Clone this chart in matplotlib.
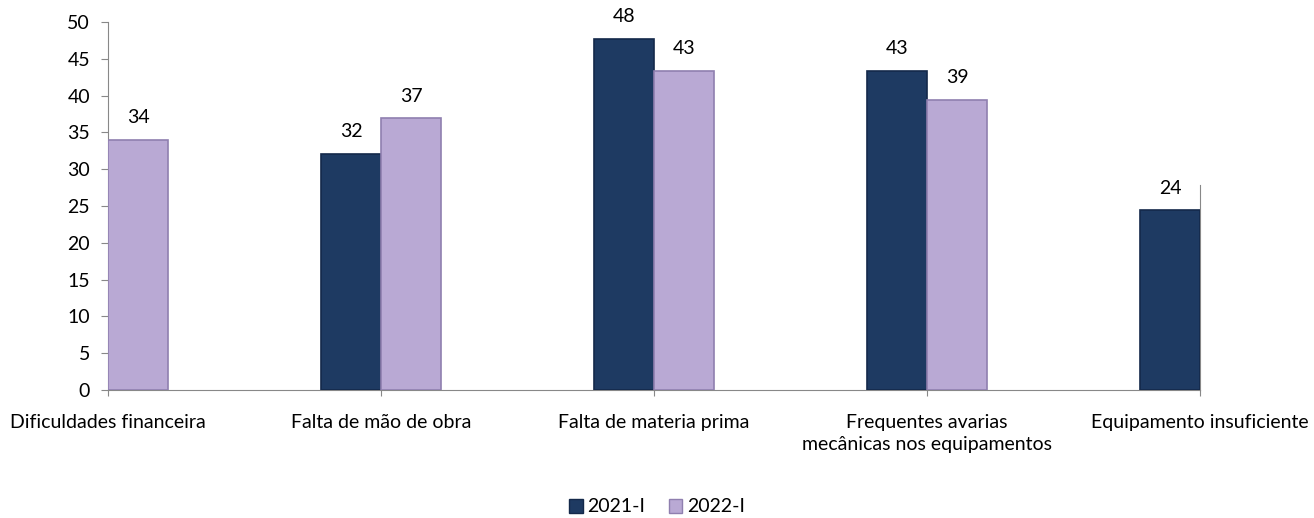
import numpy as np
import matplotlib
matplotlib.use("Agg")
import matplotlib.pyplot as plt
from matplotlib.patches import Patch

categories = ["Dificuldades financeira", "Falta de mão de obra", "Falta de materia prima",
              "Frequentes avarias\nmecânicas nos equipamentos", "Equipamento insuficiente"]
s2021 = [np.nan, 32.1, 47.7, 43.4, 24.4]
s2022 = [34.0, 36.9, 43.3, 39.4, np.nan]
series_names = ["2021-I", "2022-I"]
colors = ["#1E3A62", "#B9A9D4"]
edges = ["#14294A", "#8F7FAF"]
yticks = [0, 5, 10, 15, 20, 25, 30, 35, 40, 45, 50]

plt.rcParams['font.family'] = ['Lato', 'DejaVu Sans']
FS = 14

fig = plt.figure(figsize=(13.14, 5.18), dpi=100)
ax = fig.add_axes([108/1314, 1-390/518, (1200-108)/1314, (390-22)/518])

x = np.arange(len(categories))
w = 0.22
for vals, off, c, ec in [(s2021, -w/2, colors[0], edges[0]),
                         (s2022, w/2, colors[1], edges[1])]:
    v = np.array(vals, dtype=float)
    m = ~np.isnan(v)
    ax.bar(x[m] + off, v[m], width=w, color=c, edgecolor=ec, linewidth=1.2, zorder=3)
    for xi, vi in zip(x[m] + off, v[m]):
        ax.annotate(f"{vi:.0f}", (xi, vi), xytext=(0, 10), textcoords="offset points",
                    ha="center", va="bottom", fontsize=FS, color="black")

ax.set_xlim(0, len(categories) - 1)
ax.set_ylim(0, 50)
ax.set_yticks(yticks)
ax.set_xticks(x)
ax.set_xticklabels(categories, fontsize=FS, linespacing=1.4)
ax.tick_params(axis='y', labelsize=FS, length=5, color="#888888", pad=8)
ax.tick_params(axis='x', length=4, color="#888888", pad=13)
ax.spines["top"].set_visible(False)
for s in ["left", "bottom", "right"]:
    ax.spines[s].set_color("#888888")
ax.spines["right"].set_bounds(0, 27.8)

handles = [Patch(facecolor=colors[0], edgecolor=edges[0]), Patch(facecolor=colors[1], edgecolor=edges[1])]
fig.legend(handles, series_names, loc="center", bbox_to_anchor=(0.5, 1-507/518), ncol=2,
           frameon=False, fontsize=FS, handlelength=0.7, handleheight=0.7,
           handletextpad=0.25, columnspacing=1.2)

fig.savefig("out.png", dpi=100)
